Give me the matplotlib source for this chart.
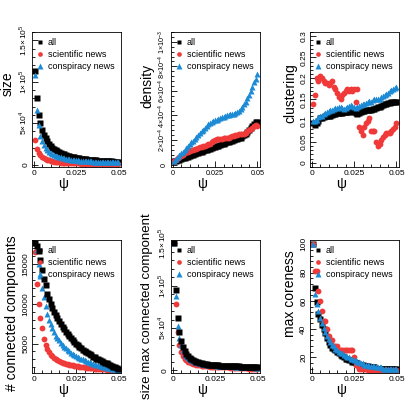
import numpy as np
import matplotlib
matplotlib.use("Agg")
import matplotlib.pyplot as plt
from matplotlib.ticker import AutoMinorLocator

plt.rcParams['font.family'] = ['Liberation Sans', 'DejaVu Sans']
plt.rcParams['mathtext.fontset'] = 'custom'
plt.rcParams['mathtext.rm'] = 'Liberation Sans'

psi = [round(0.001 * k, 3) for k in range(1, 51)]

size_all = [113, 80, 60, 50, 42, 36, 32, 28, 25, 22.5, 20.5, 19, 17.5, 16.2, 15, 14, 13, 12.2, 11.5, 10.8,
            10.2, 9.6, 9.1, 8.6, 8.2, 7.8, 7.4, 7.1, 6.8, 6.5, 6.2, 6.0, 5.7, 5.5, 5.3, 5.1, 4.9, 4.7, 4.6, 4.4,
            4.3, 4.1, 4.0, 3.9, 3.8, 3.7, 3.6, 3.5, 3.4, 3.3]
size_sci = [30, 19, 14, 11, 9, 7.5, 6.5, 5.6, 5.0, 4.4, 3.9, 3.5, 3.1, 2.8, 2.6, 2.4, 2.2, 2.0, 1.9, 1.8,
            1.7, 1.6, 1.5, 1.4, 1.35, 1.3, 1.25, 1.2, 1.15, 1.1, 1.05, 1.0, 0.98, 0.96, 0.94, 0.92, 0.9, 0.88, 0.86, 0.84,
            0.82, 0.8, 0.78, 0.77, 0.76, 0.75, 0.74, 0.73, 0.72, 0.7]
size_con = [108, 66, 48, 35, 28, 23, 20, 17.5, 15.5, 14, 12.6, 11.5, 10.6, 9.8, 9.1, 8.5, 8, 7.5, 7.1, 6.7,
            6.3, 6.0, 5.7, 5.4, 5.2, 5.0, 4.8, 4.6, 4.4, 4.2, 4.0, 3.9, 3.8, 3.7, 3.6, 3.5, 3.4, 3.3, 3.2, 3.1,
            3.0, 2.95, 2.9, 2.85, 2.8, 2.75, 2.7, 2.65, 2.6, 2.55]

dens_all = [0.25, 0.3, 0.35, 0.4, 0.45, 0.5, 0.55, 0.6, 0.65, 0.7, 0.75, 0.8, 0.85, 0.9, 0.95, 1.0, 1.05, 1.1, 1.15, 1.2,
            1.25, 1.3, 1.35, 1.4, 1.45, 1.5, 1.55, 1.6, 1.65, 1.7, 1.75, 1.8, 1.85, 1.9, 1.95, 2.0, 2.05, 2.1, 2.15, 2.2,
            2.3, 2.4, 2.5, 2.65, 2.8, 2.95, 3.1, 3.3, 3.45, 3.5]
dens_sci = [0.3, 0.4, 0.5, 0.6, 0.7, 0.8, 0.9, 1.0, 1.05, 1.1, 1.15, 1.2, 1.25, 1.3, 1.35, 1.4, 1.45, 1.5, 1.55, 1.6,
            1.65, 1.7, 1.8, 1.9, 2.0, 2.05, 2.05, 2.1, 2.1, 2.15, 2.15, 2.2, 2.2, 2.25, 2.3, 2.35, 2.4, 2.4, 2.45, 2.5,
            2.45, 2.5, 2.6, 2.7, 2.8, 2.9, 3.0, 3.1, 3.2, 3.1]
dens_con = [0.3, 0.45, 0.6, 0.75, 0.9, 1.05, 1.2, 1.35, 1.5, 1.65, 1.8, 1.95, 2.1, 2.25, 2.4, 2.55, 2.7, 2.85, 3.0, 3.15,
            3.3, 3.4, 3.5, 3.55, 3.6, 3.65, 3.7, 3.8, 3.85, 3.9, 3.95, 4.0, 4.05, 4.1, 4.15, 4.1, 4.2, 4.3, 4.4, 4.5,
            4.7, 4.9, 5.1, 5.4, 5.7, 6.0, 6.3, 6.7, 7.0, 7.4]

clu_all = [0.095, 0.09, 0.095, 0.1, 0.105, 0.105, 0.108, 0.11, 0.11, 0.112, 0.112, 0.114, 0.115, 0.116, 0.117, 0.118, 0.118, 0.119, 0.12, 0.12,
           0.12, 0.121, 0.122, 0.122, 0.12, 0.117, 0.116, 0.118, 0.12, 0.122, 0.123, 0.124, 0.125, 0.126, 0.126, 0.127, 0.128, 0.13, 0.132, 0.133,
           0.135, 0.137, 0.139, 0.14, 0.141, 0.142, 0.143, 0.144, 0.145, 0.145]
clu_sci = [0.14, 0.16, 0.2, 0.195, 0.205, 0.2, 0.195, 0.19, 0.19, 0.185, 0.19, 0.195, 0.18, 0.175, 0.165, 0.155, 0.15, 0.16, 0.165, 0.17,
           0.175, 0.17, 0.175, 0.17, 0.175, 0.145, 0.175, 0.085, 0.075, 0.065, 0.085, 0.095, 0.1, 0.105, 0.075, 0.075, 0.075, 0.05, 0.04, 0.045,
           0.055, 0.06, 0.065, 0.07, 0.07, 0.07, 0.075, 0.08, 0.085, 0.095]
clu_con = [0.1, 0.098, 0.102, 0.108, 0.11, 0.112, 0.115, 0.118, 0.12, 0.122, 0.124, 0.126, 0.128, 0.13, 0.13, 0.132, 0.133, 0.13, 0.128, 0.13,
           0.133, 0.135, 0.137, 0.135, 0.133, 0.13, 0.132, 0.135, 0.138, 0.14, 0.14, 0.142, 0.144, 0.146, 0.145, 0.148, 0.15, 0.152, 0.15, 0.152,
           0.155, 0.158, 0.16, 0.163, 0.166, 0.17, 0.172, 0.175, 0.178, 0.18]

cc_all = [17600, 17300, 16600, 15500, 14200, 13100, 12300, 11200, 10600, 10000, 9500, 9000, 8600, 8200, 7800, 7450, 7100, 6800, 6500, 6200,
          5950, 5700, 5450, 5200, 5000, 4800, 4600, 4400, 4250, 4100, 3950, 3800, 3650, 3500, 3350, 3250, 3100, 3000, 2900, 2800,
          2700, 2600, 2500, 2400, 2300, 2200, 2100, 2000, 1900, 1800]
cc_sci = [16500, 12500, 10000, 8200, 7000, 5600, 4800, 4300, 3900, 3600, 3400, 3200, 3050, 2900, 2800, 2700, 2600, 2520, 2450, 2400,
          2350, 2300, 2250, 2200, 2150, 2120, 2090, 2060, 2030, 2000, 1970, 1950, 1920, 1900, 1880, 1860, 1840, 1820, 1800, 1780,
          1760, 1740, 1720, 1700, 1690, 1680, 1670, 1660, 1650, 1640]
cc_con = [17600, 16800, 15000, 13500, 12000, 10800, 9700, 8700, 8000, 7400, 6900, 6400, 6000, 5700, 5400, 5100, 4850, 4600, 4400, 4200,
          4000, 3850, 3700, 3550, 3400, 3300, 3200, 3100, 3000, 2900, 2800, 2700, 2620, 2550, 2480, 2410, 2340, 2270, 2200, 2140,
          2080, 2030, 1980, 1930, 1880, 1840, 1800, 1760, 1720, 1700]

mcc_all = [150, 95, 62, 45, 35, 28, 23, 19, 16.5, 14.5, 13, 11.8, 10.8, 10, 9.4, 8.9, 8.4, 8, 7.6, 7.3,
           7, 6.8, 6.6, 6.4, 6.2, 6.0, 5.9, 5.8, 5.7, 5.6, 5.5, 5.4, 5.3, 5.2, 5.1, 5.0, 4.9, 4.8, 4.7, 4.6,
           4.5, 4.4, 4.3, 4.2, 4.1, 4.0, 3.9, 3.8, 3.7, 3.6]
mcc_sci = [150, 78, 45, 30, 22, 17, 14, 12, 10.5, 9.5, 8.5, 7.8, 7.2, 6.7, 6.3, 6, 5.7, 5.4, 5.2, 5,
           4.8, 4.6, 4.5, 4.4, 4.3, 4.2, 4.1, 4.0, 3.9, 3.8, 3.7, 3.6, 3.5, 3.4, 3.3, 3.2, 3.1, 3.0, 2.9, 2.8,
           2.7, 2.6, 2.5, 2.4, 2.3, 2.2, 2.1, 2.0, 1.9, 1.8]
mcc_con = [150, 88, 52, 38, 30, 24, 20, 17, 15, 13.5, 12.3, 11.3, 10.4, 9.7, 9.1, 8.6, 8.1, 7.7, 7.3, 7,
           6.7, 6.5, 6.3, 6.1, 5.9, 5.7, 5.6, 5.5, 5.4, 5.3, 5.2, 5.1, 5.0, 4.9, 4.8, 4.7, 4.6, 4.5, 4.4, 4.3,
           4.2, 4.1, 4.0, 3.9, 3.8, 3.7, 3.6, 3.5, 3.4, 3.3]

core_all = [100, 69, 59, 51, 47, 43, 40, 37, 34, 31, 29, 27, 26, 25, 24, 23, 22, 21, 20, 19,
            19, 18, 18, 17, 17, 16, 16, 15, 15, 15, 14, 14, 14, 13, 13, 13, 13, 12, 12, 12,
            12, 12, 12, 12, 12, 12, 12, 12, 12, 12]
core_sci = [100, 81, 81, 67, 60, 53, 46, 46, 40, 35, 32, 32, 28, 28, 28, 25, 25, 25, 25, 25,
            25, 25, 25, 25, 20, 15, 15, 12, 12, 12, 12, 12, 11, 11, 11, 11, 11, 11, 11, 11,
            11, 11, 11, 11, 11, 11, 11, 11, 11, 11]
core_con = [100, 65, 58, 53, 48, 44, 41, 38, 35, 33, 31, 29, 28, 26, 25, 24, 23, 23, 22, 21,
            20, 20, 19, 19, 18, 18, 17, 17, 16, 16, 15, 15, 15, 14, 14, 14, 14, 13, 13, 13,
            13, 12, 12, 12, 12, 12, 12, 12, 12, 12]

labels = ['all', 'scientific news', 'conspiracy news']
styles = [dict(marker='s', color='black', ms=4.2, mec='none'),
          dict(marker='o', color='#f03a3a', ms=4.2, mec='none'),
          dict(marker='^', color='#1c8ad4', ms=4.8, mec='none')]

panels = [
    ('size', [size_all, size_sci, size_con], 1e3, (-3000, 1.6e5), [0, 5e4, 1e5, 1.5e5],
     ['0', r'$5\!\times\!10^4$', r'$1\!\times\!10^5$', r'$1.5\!\times\!10^5$'], 0.62),
    ('density', [dens_all, dens_sci, dens_con], 1e-4, (-0.2e-4, 1.08e-3), [0, 2e-4, 4e-4, 6e-4, 8e-4, 1e-3],
     ['0', r'$2\!\times\!10^{-4}$', r'$4\!\times\!10^{-4}$', r'$6\!\times\!10^{-4}$', r'$8\!\times\!10^{-4}$', r'$1\!\times\!10^{-3}$'], 0.6),
    ('clustering', [clu_all, clu_sci, clu_con], 1, (-0.01, 0.31), [0, 0.05, 0.1, 0.15, 0.2, 0.25, 0.3],
     ['0', '0.05', '0.1', '0.15', '0.2', '0.25', '0.3'], 0.55),
    ('# connected components', [cc_all, cc_sci, cc_con], 1, (1300, 18000), [5000, 10000, 15000],
     ['5000', '10000', '15000'], 0.45),
    ('size max connected component', [mcc_all, mcc_sci, mcc_con], 1e3, (-3000, 1.54e5), [0, 5e4, 1e5, 1.5e5],
     ['0', r'$5\!\times\!10^4$', r'$1\!\times\!10^5$', r'$1.5\!\times\!10^5$'], 0.5),
    ('max coreness', [core_all, core_sci, core_con], 1, (9, 103), [20, 40, 60, 80, 100],
     ['20', '40', '60', '80', '100'], 0.6),
]

fig = plt.figure(figsize=(4.15, 4.15), dpi=100)
lefts = [32, 171, 310]
for i, (ylab, series, scale, ylim, yt, ytl, ly) in enumerate(panels):
    r, c = divmod(i, 3)
    if r == 0:
        top, bot = 32, 167
    else:
        top, bot = 240, 373
    ax = fig.add_axes([lefts[c] / 415, 1 - bot / 415, 89 / 415, (bot - top) / 415])
    order = [1, 2, 0] if i in (3, 4) else [0, 1, 2]
    hs = {}
    for k in order:
        hs[k], = ax.plot(psi, np.array(series[k]) * scale, ls='none', **styles[k])
    ax.set_xlim(-0.001, 0.0515)
    ax.set_ylim(*ylim)
    ax.set_xticks([0, 0.025, 0.05])
    ax.set_xticklabels(['0', '0.025', '0.05'])
    ax.set_yticks(yt)
    ax.set_yticklabels(ytl, rotation=90, va='center')
    ax.xaxis.set_minor_locator(AutoMinorLocator(5))
    ax.yaxis.set_minor_locator(AutoMinorLocator(5))
    fs = 5.2 if i == 1 else 6
    ax.tick_params(which='both', direction='in', labelsize=fs, length=4, width=0.6, pad=2)
    ax.tick_params(which='minor', length=2)
    ax.tick_params(axis='y', which='both', right=False)
    for s in ax.spines.values():
        s.set_linewidth(0.6)
    ax.set_xlabel('ψ', fontsize=10, labelpad=0, x=0.35)
    ax.set_ylabel(ylab, fontsize=9.5 if i == 4 else 10, labelpad=2, y=ly)
    ax.legend([hs[0], hs[1], hs[2]], labels, loc='upper right', frameon=False, fontsize=6.5,
              handlelength=0.8, handletextpad=0.5, borderaxespad=0.3, labelspacing=0.3, markerscale=0.8)

fig.savefig('out.png', dpi=100)
